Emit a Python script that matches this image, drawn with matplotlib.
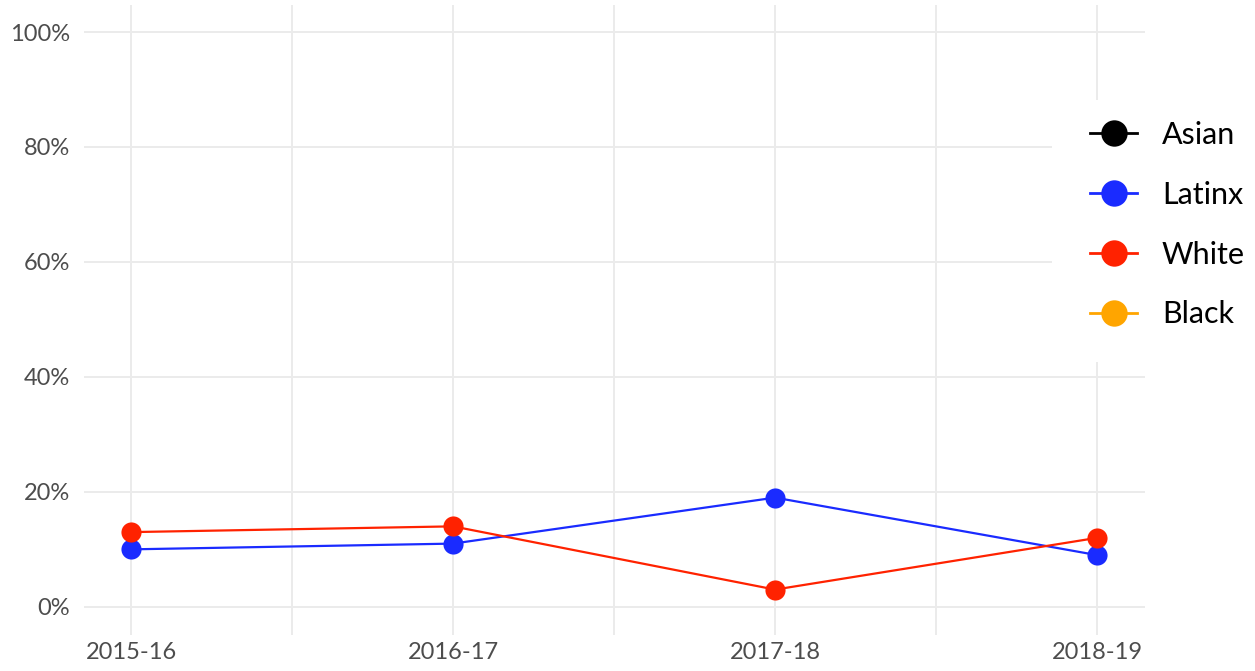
import numpy as np
import matplotlib
matplotlib.use("Agg")
import matplotlib.pyplot as plt
from matplotlib.lines import Line2D
from matplotlib.patches import Rectangle

# data
years = ["2015-16", "2016-17", "2017-18", "2018-19"]
asian = [np.nan, np.nan, np.nan, np.nan]
latinx = [0.10, 0.11, 0.19, 0.09]
white = [0.13, 0.14, 0.03, 0.12]
black = [np.nan, np.nan, np.nan, np.nan]

groups = ["Asian", "Latinx", "White", "Black"]
colors = ["#000000", "#1a2bff", "#ff2200", "#ffa500"]
series = [asian, latinx, white, black]

plt.rcParams["font.family"] = ["Lato", "DejaVu Sans"]

fig = plt.figure(figsize=(12.55, 6.71), dpi=100)
ax = fig.add_axes([84 / 1255, 36 / 671, (1145 - 84) / 1255, (666 - 36) / 671])

x = np.arange(len(years))
for vals, col in zip(series, colors):
    ax.plot(x, vals, color=col, linewidth=1.6, marker="o", markersize=14.5,
            markeredgewidth=0, zorder=3)

ax.set_xlim(-0.146, 3.149)
ax.set_ylim(-0.049, 1.047)
ax.set_xticks(x)
ax.set_xticklabels(years)
ax.set_xticks([0.5, 1.5, 2.5], minor=True)
ax.set_yticks([0, 0.2, 0.4, 0.6, 0.8, 1.0])
ax.set_yticklabels(["0%", "20%", "40%", "60%", "80%", "100%"])

ax.grid(True, which="both", color="#ebebeb", linewidth=1.4)
ax.set_axisbelow(True)
for s in ax.spines.values():
    s.set_visible(False)
ax.tick_params(axis="both", which="both", length=0, colors="#4d4d4d", labelsize=17)
ax.tick_params(axis="x", pad=5)
ax.tick_params(axis="y", pad=10)

# legend sits on top of the panel with a white background
fig.patches.append(Rectangle((1052 / 1255, 1 - 362 / 671), 203 / 1255, 262 / 671,
                             transform=fig.transFigure, facecolor="white",
                             edgecolor="none", zorder=1))
handles = [Line2D([0], [0], color=c, linewidth=2, marker="o", markersize=19,
                  markeredgewidth=0) for c in colors]
fig.legend(handles, groups, loc="upper left", bbox_to_anchor=(1090 / 1255, 1 - 121 / 671),
           frameon=False, fontsize=22, borderpad=0, borderaxespad=0,
           handlelength=1.55, handletextpad=0.8, labelspacing=1.04)

plt.savefig("out.png", dpi=100)
